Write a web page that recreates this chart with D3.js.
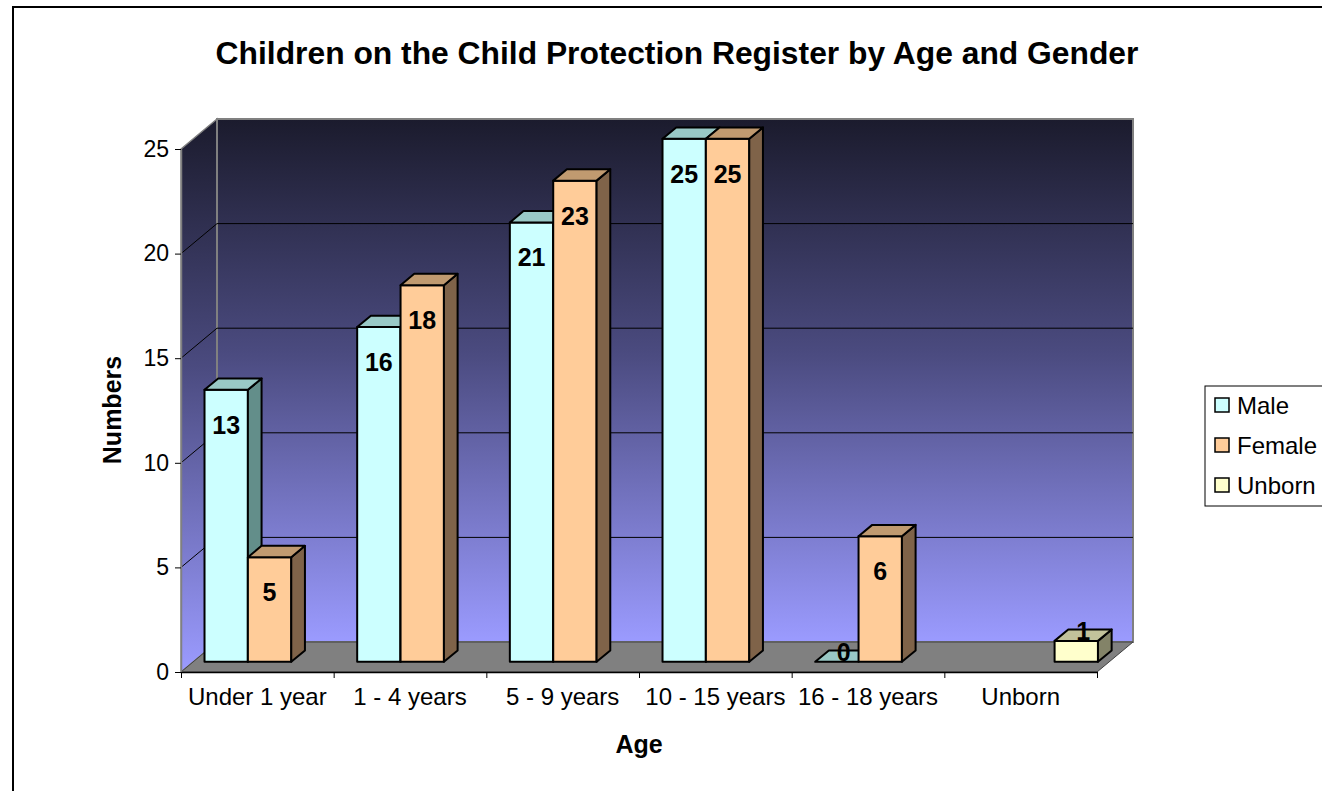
<!DOCTYPE html>
<html><head><meta charset="utf-8">
<script src="https://cdn.jsdelivr.net/npm/d3@7"></script>
<style>
body{margin:0;background:#fff;overflow:hidden}
text{font-family:Arial,"Liberation Sans",sans-serif}
</style>
</head><body>
<svg id="c" width="1322" height="791"></svg>
<script>
// ---- data ----
const categories = ["Under 1 year","1 - 4 years","5 - 9 years","10 - 15 years","16 - 18 years","Unborn"];
const seriesNames = ["Male","Female","Unborn"];
const male   = [13, 16, 21, 25, 0, null];
const female = [5, 18, 23, 25, 6, null];
const unborn = [null, null, null, null, null, 1];
const yTicks = [0, 5, 10, 15, 20, 25];
const chartTitle = "Children on the Child Protection Register by Age and Gender";
const xTitle = "Age";
const yTitle = "Numbers";

// ---- styles ----
const seriesColors = {
  Male:   {front:"#CCFFFF", top:"#99C9C6", side:"#638E8A"},
  Female: {front:"#FFCC99", top:"#C09A70", side:"#7F6349"},
  Unborn: {front:"#FFFFCC", top:"#C2C29B", side:"#838368"}
};
const seriesValues = {Male: male, Female: female, Unborn: unborn};

const svg = d3.select("#c");
const X0 = 181, X1 = 1097, YB = 672, YT = 149;
const DX = 36, DY = -30;      // full depth offset
const F1 = 0.34, F2 = 0.72;   // bar depth range

const x = d3.scaleBand().domain(categories).range([X0, X1]).paddingInner(0).paddingOuter(0);
const sub = d3.scaleBand().domain(seriesNames).range([0, x.bandwidth()]).paddingInner(0).paddingOuter(0.26);
const y = d3.scaleLinear().domain([0, 25]).range([YB, YT]);
const xi = d3.scaleLinear().domain([0, categories.length]).range([X0, X1]);

const P = (px, py, d) => [px + d * DX, py + d * DY];
const line = pts => "M" + pts.map(p => p.join(",")).join("L") + "Z";
const pline = pts => "M" + pts.map(p => p.join(",")).join("L");

// chart border
svg.append("rect").attr("x", 13).attr("y", 7).attr("width", 1340).attr("height", 820)
  .attr("fill", "#fff").attr("stroke", "#000").attr("stroke-width", 2);

// gradient
const defs = svg.append("defs");
const g1 = defs.append("linearGradient").attr("id", "wall").attr("x1", 0).attr("y1", 0).attr("x2", 0).attr("y2", 1);
g1.append("stop").attr("offset", "0%").attr("stop-color", "#1B1B2D");
g1.append("stop").attr("offset", "45%").attr("stop-color", "#4B4B80");
g1.append("stop").attr("offset", "100%").attr("stop-color", "#9B9BFF");

// walls
svg.append("path").attr("d", line([P(X0, YT, 0), P(X0, YT, 1), P(X0, YB, 1), P(X0, YB, 0)]))
  .attr("fill", "url(#wall)").attr("stroke", "#808080").attr("stroke-width", 1.5);
svg.append("path").attr("d", line([P(X0, YT, 1), P(X1, YT, 1), P(X1, YB, 1), P(X0, YB, 1)]))
  .attr("fill", "url(#wall)").attr("stroke", "#808080").attr("stroke-width", 2);
// floor
svg.append("path").attr("d", line([P(X0, YB, 0), P(X1, YB, 0), P(X1, YB, 1), P(X0, YB, 1)]))
  .attr("fill", "#808080").attr("stroke", "#404040").attr("stroke-width", 1);

// gridlines
yTicks.filter(t => t > 0 && t < 25).forEach(t => {
  svg.append("path").attr("d", pline([P(X0, y(t), 0), P(X0, y(t), 1), P(X1, y(t), 1)]))
    .attr("fill", "none").attr("stroke", "#000").attr("stroke-width", 1);
});

// value axis
const ya = svg.append("g").attr("transform", `translate(${X0},0)`)
  .call(d3.axisLeft(y).tickValues(yTicks).tickSize(6).tickPadding(6).tickSizeOuter(0));
ya.select(".domain").attr("stroke", "#808080").attr("stroke-width", 1.5);
ya.selectAll(".tick line").attr("stroke", "#000");
ya.selectAll("text").attr("font-size", 23).attr("fill", "#000").style("font-family", "Arial,'Liberation Sans',sans-serif");

// category axis
const xa1 = svg.append("g").attr("transform", `translate(0,${YB})`)
  .call(d3.axisBottom(xi).tickValues(d3.range(categories.length + 1)).tickFormat("").tickSize(6).tickSizeOuter(0));
xa1.select(".domain").attr("stroke", "#000").attr("stroke-width", 1.5);
xa1.selectAll(".tick line").attr("stroke", "#000");
const xa2 = svg.append("g").attr("transform", `translate(0,${YB})`)
  .call(d3.axisBottom(x).tickSize(0).tickPadding(16));
xa2.select(".domain").remove();
xa2.selectAll("text").attr("font-size", 24).attr("fill", "#000").style("font-family", "Arial,'Liberation Sans',sans-serif");

// bars
const barsG = svg.append("g");
const labels = [];
categories.forEach((c, ci) => {
  seriesNames.forEach(s => {
    const v = seriesValues[s][ci];
    if (v === null || v === undefined) return;
    const col = seriesColors[s];
    const xl = x(c) + sub(s), xr = xl + sub.bandwidth();
    const yb = y(0), yt = y(v);
    const g = barsG.append("g").attr("stroke", "#000").attr("stroke-width", 2).attr("stroke-linejoin", "round");
    if (v > 0) {
      g.append("path").attr("d", line([P(xl, yt, F1), P(xr, yt, F1), P(xr, yb, F1), P(xl, yb, F1)])).attr("fill", col.front);
      g.append("path").attr("d", line([P(xr, yt, F1), P(xr, yt, F2), P(xr, yb, F2), P(xr, yb, F1)])).attr("fill", col.side);
    }
    g.append("path").attr("d", line([P(xl, yt, F1), P(xr, yt, F1), P(xr, yt, F2), P(xl, yt, F2)])).attr("fill", col.top);
    const cx = (xl + xr) / 2;
    let lp;
    if (v >= 5) lp = [P(cx, yt, F1)[0], P(cx, yt, F1)[1] + 35];
    else { const m = P(cx, yt, (F1 + F2) / 2); lp = [m[0], m[1] - 4]; }
    labels.push({v, x: lp[0], y: lp[1]});
  });
});
svg.append("g").selectAll("text").data(labels).join("text")
  .attr("x", d => d.x).attr("y", d => d.y).attr("text-anchor", "middle").attr("dominant-baseline", "central")
  .attr("font-size", 25).attr("font-weight", "bold").attr("fill", "#000").text(d => d.v);

// titles
svg.append("text").attr("x", 677).attr("y", 64).attr("text-anchor", "middle")
  .attr("font-size", 31.8).attr("font-weight", "bold").text(chartTitle);
svg.append("text").attr("x", 639).attr("y", 753).attr("text-anchor", "middle")
  .attr("font-size", 25).attr("font-weight", "bold").text(xTitle);
svg.append("text").attr("transform", "translate(121,410) rotate(-90)").attr("text-anchor", "middle")
  .attr("font-size", 25).attr("font-weight", "bold").text(yTitle);

// legend
const lg = svg.append("g").attr("transform", "translate(1205,386)");
lg.append("rect").attr("width", 140).attr("height", 120).attr("fill", "#fff").attr("stroke", "#000").attr("stroke-width", 1);
seriesNames.forEach((s, i) => {
  const cy = 19 + i * 40;
  lg.append("rect").attr("x", 10).attr("y", cy - 7).attr("width", 14).attr("height", 14)
    .attr("fill", seriesColors[s].front).attr("stroke", "#000").attr("stroke-width", 1.5);
  lg.append("text").attr("x", 32).attr("y", cy).attr("dominant-baseline", "central")
    .attr("font-size", 24).attr("fill", "#000").text(s);
});
</script>
</body></html>
